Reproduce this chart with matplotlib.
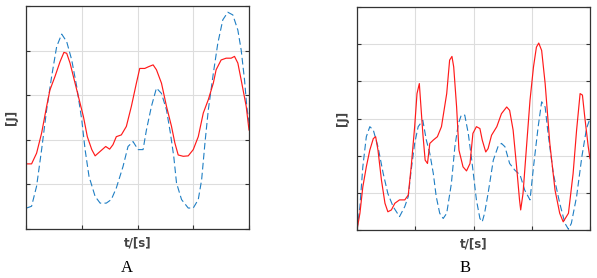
import numpy as np
import matplotlib.pyplot as plt

# Panel A data
a_red_t = [0.01, 0.10, 0.19, 0.28, 0.37, 0.43, 0.52, 0.61, 0.68, 0.73, 0.79, 0.85, 0.94, 1.03,
           1.10, 1.18, 1.24, 1.33, 1.43, 1.50, 1.56, 1.62, 1.71, 1.80, 1.89, 1.98, 2.04, 2.13,
           2.20, 2.28, 2.34, 2.43, 2.52, 2.61, 2.67, 2.73, 2.82, 2.91, 3.00, 3.09, 3.18, 3.27,
           3.36, 3.41, 3.50, 3.59, 3.68, 3.74, 3.80, 3.86, 3.95, 4.00]
a_red_e = [1.46, 1.46, 1.70, 2.15, 2.75, 3.12, 3.42, 3.75, 3.96, 3.94, 3.72, 3.42, 2.97, 2.52,
           2.07, 1.78, 1.64, 1.74, 1.85, 1.79, 1.89, 2.07, 2.11, 2.30, 2.75, 3.27, 3.60, 3.60,
           3.64, 3.68, 3.57, 3.27, 2.75, 2.30, 1.93, 1.66, 1.63, 1.64, 1.78, 2.07, 2.60, 2.90,
           3.27, 3.57, 3.79, 3.83, 3.83, 3.87, 3.72, 3.34, 2.75, 2.22]

a_blue_t = [0.01, 0.10, 0.19, 0.28, 0.37, 0.46, 0.55, 0.64, 0.73, 0.82, 0.91, 1.00, 1.06, 1.13,
            1.24, 1.33, 1.44, 1.53, 1.62, 1.74, 1.83, 1.92, 2.01, 2.10, 2.16, 2.25, 2.34, 2.43,
            2.52, 2.59, 2.65, 2.70, 2.79, 2.91, 3.00, 3.09, 3.15, 3.21, 3.27, 3.36, 3.44, 3.53,
            3.62, 3.71, 3.80, 3.86, 3.92, 3.96, 4.00]
a_blue_e = [0.47, 0.51, 0.96, 1.78, 2.67, 3.42, 4.09, 4.37, 4.20, 3.79, 3.19, 2.45, 1.78, 1.18,
            0.73, 0.58, 0.58, 0.66, 0.92, 1.40, 1.85, 1.96, 1.78, 1.78, 2.22, 2.75, 3.16, 3.04,
            2.67, 2.15, 1.63, 1.03, 0.66, 0.47, 0.47, 0.66, 1.10, 1.93, 2.67, 3.49, 4.16, 4.69,
            4.86, 4.80, 4.46, 4.01, 3.34, 2.75, 2.37]

# Panel B data
b_red_t = [0.00, 0.05, 0.10, 0.16, 0.22, 0.28, 0.32, 0.36, 0.42, 0.48, 0.53, 0.59, 0.65, 0.73,
           0.82, 0.88, 0.93, 0.99, 1.03, 1.07, 1.09, 1.13, 1.17, 1.21, 1.25, 1.31, 1.38, 1.45,
           1.54, 1.59, 1.63, 1.66, 1.71, 1.75, 1.82, 1.88, 1.94, 1.99, 2.05, 2.11, 2.15, 2.21,
           2.25, 2.31, 2.40, 2.48, 2.57, 2.62, 2.68, 2.74, 2.79, 2.81, 2.85, 2.91, 2.97, 3.03,
           3.08, 3.12, 3.17, 3.23, 3.31, 3.40, 3.48, 3.54, 3.63, 3.71, 3.77, 3.83, 3.87, 3.91,
           3.97, 4.00]
b_red_e = [0.00, 0.45, 1.16, 1.70, 2.15, 2.46, 2.51, 2.15, 1.34, 0.72, 0.49, 0.54, 0.72, 0.81,
           0.81, 0.94, 1.70, 2.78, 3.67, 3.94, 3.49, 2.60, 1.88, 1.79, 2.33, 2.42, 2.51, 2.78,
           3.67, 4.57, 4.67, 4.39, 3.31, 2.15, 1.70, 1.59, 1.79, 2.60, 2.78, 2.73, 2.42, 2.10,
           2.19, 2.55, 2.78, 3.13, 3.31, 3.22, 2.69, 1.70, 0.81, 0.54, 0.98, 2.24, 3.49, 4.39,
           4.92, 5.03, 4.83, 3.94, 2.33, 1.07, 0.45, 0.22, 0.45, 1.52, 2.69, 3.67, 3.63, 3.04,
           2.24, 1.92]

b_blue_t = [0.00, 0.05, 0.10, 0.16, 0.22, 0.28, 0.36, 0.45, 0.53, 0.62, 0.73, 0.82, 0.88, 0.93,
            0.99, 1.05, 1.13, 1.19, 1.25, 1.31, 1.36, 1.42, 1.48, 1.54, 1.62, 1.68, 1.74, 1.79,
            1.85, 1.91, 1.97, 2.05, 2.11, 2.15, 2.19, 2.25, 2.34, 2.42, 2.48, 2.54, 2.62, 2.71,
            2.80, 2.88, 2.97, 3.03, 3.11, 3.17, 3.23, 3.28, 3.37, 3.48, 3.57, 3.63, 3.68, 3.77,
            3.86, 3.94, 4.00]
b_blue_e = [0.00, 0.63, 1.70, 2.51, 2.78, 2.69, 2.24, 1.52, 0.98, 0.63, 0.36, 0.63, 0.90, 1.61,
            2.33, 2.78, 2.95, 2.42, 2.06, 1.52, 0.90, 0.45, 0.31, 0.45, 1.25, 2.24, 2.86, 3.09,
            3.09, 2.60, 1.88, 0.81, 0.31, 0.22, 0.45, 0.98, 1.88, 2.24, 2.33, 2.24, 1.79, 1.61,
            1.48, 1.07, 0.81, 1.70, 2.78, 3.45, 3.31, 2.60, 1.52, 0.72, 0.18, 0.02, 0.18, 0.90,
            1.97, 2.73, 3.00]

panel_labels = ["A", "B"]
RED = "#ff1a1a"
BLUE = "#1f7fc4"


def dibujar(ax, t_red, e_red, t_blue, e_blue, ymax):
    ax.plot(t_blue, e_blue, color=BLUE, lw=0.8, ls=(0, (6, 3)))
    ax.plot(t_red, e_red, color=RED, lw=0.85)
    ax.set_xlim(0, 4)
    ax.set_ylim(0, ymax)
    ax.set_xticks(np.arange(0, 5, 1))
    ax.set_yticks(np.arange(0, ymax + 1, 1))
    ax.grid(True, color="#dddddd", lw=0.8)
    ax.tick_params(direction="in", length=3, left=True, right=True, top=False,
                   bottom=True, labelleft=False, labelbottom=False, color="#333333")
    for s in ax.spines.values():
        s.set_color("#333333")
        s.set_linewidth(0.9)
    ax.set_ylabel("[J]", fontsize=8.5, fontweight="bold", color="#444444", labelpad=6)
    ax.set_xlabel("t/[s]", fontsize=8.5, fontweight="bold", color="#444444", labelpad=5)


fig = plt.figure(figsize=(5.97, 2.78), dpi=100)
ax1 = fig.add_axes([26 / 597, 49 / 278, 223 / 597, 223 / 278])
ax2 = fig.add_axes([357 / 597, 48 / 278, 233 / 597, 223 / 278])

dibujar(ax1, a_red_t, a_red_e, a_blue_t, a_blue_e, 5)
dibujar(ax2, b_red_t, b_red_e, b_blue_t, b_blue_e, 6)

fig.text(127 / 597, 1 - 268 / 278, panel_labels[0], ha="center", va="center",
         fontsize=12, family="Liberation Serif")
fig.text(465 / 597, 1 - 268 / 278, panel_labels[1], ha="center", va="center",
         fontsize=12, family="Liberation Serif")

fig.savefig("out.png", dpi=100)
